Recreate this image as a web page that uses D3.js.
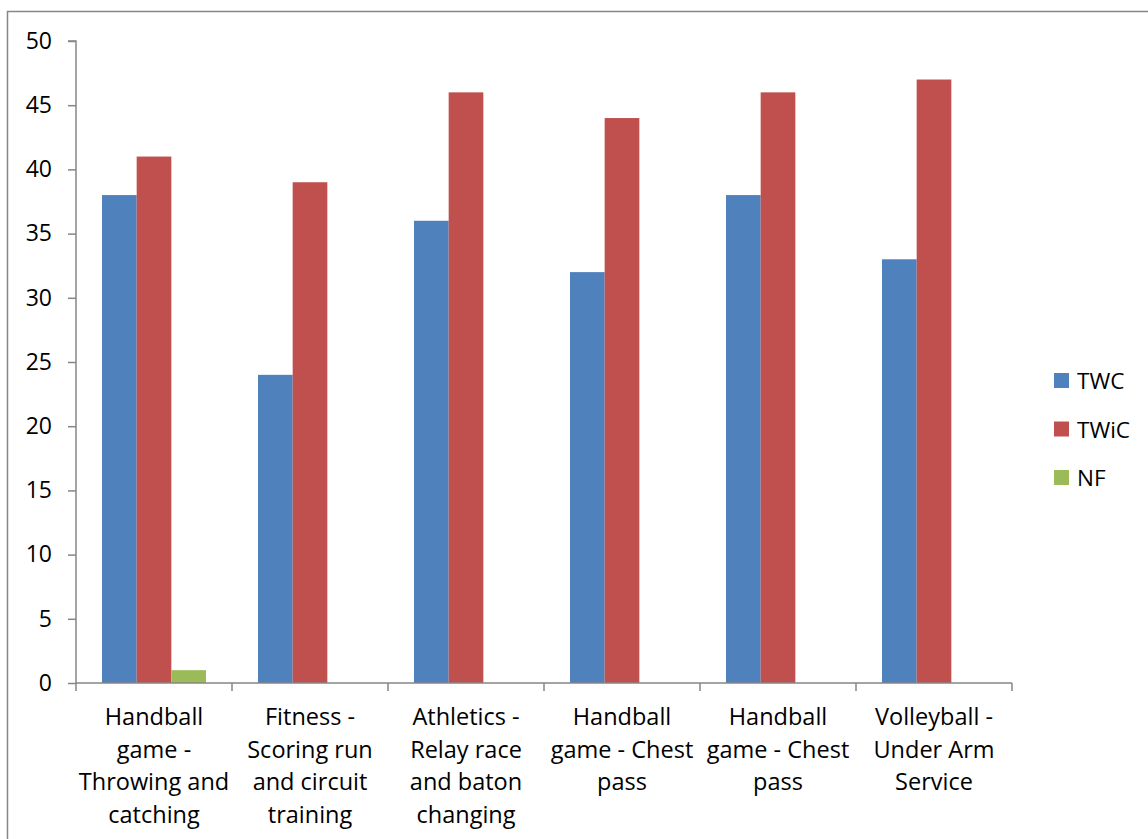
<!DOCTYPE html>
<html>
<head>
<meta charset="utf-8">
<script src="https://cdn.jsdelivr.net/npm/d3@7"></script>
<style>
  html, body { margin: 0; padding: 0; background: #fff; }
  svg { display: block; }
  text { font-family: "Open Sans", Lato, "Liberation Sans", sans-serif; fill: #000; }
</style>
</head>
<body>
<svg id="chart" width="1148" height="839"></svg>
<script>
// Lesson topics (x categories), each label split into display lines
const categories = [
  ["Handball", "game -", "Throwing and", "catching"],
  ["Fitness -", "Scoring run", "and circuit", "training"],
  ["Athletics -", "Relay race", "and baton", "changing"],
  ["Handball", "game - Chest", "pass"],
  ["Handball", "game - Chest", "pass"],
  ["Volleyball -", "Under Arm", "Service"]
];
const seriesNames = ["TWC", "TWiC", "NF"];
const twc  = [38, 24, 36, 32, 38, 33];
const twic = [41, 39, 46, 44, 46, 47];
const nf   = [1, 0, 0, 0, 0, 0];
const yTicks = [0, 5, 10, 15, 20, 25, 30, 35, 40, 45, 50];
const colors = ["#4F81BD", "#C0504D", "#9BBB59"];

const seriesValues = [twc, twic, nf];

const svg = d3.select("#chart");

// outer chart-area frame
svg.append("rect")
  .attr("x", 7.5).attr("y", 11.5)
  .attr("width", 1160).attr("height", 850)
  .attr("fill", "none").attr("stroke", "#868686").attr("stroke-width", 1.5);

const plot = { left: 76, right: 1012, top: 41, bottom: 683 };

const x = d3.scaleBand()
  .domain(d3.range(categories.length))
  .range([plot.left, plot.right])
  .paddingInner(0).paddingOuter(0);

const inner = d3.scaleBand()
  .domain(d3.range(seriesNames.length))
  .range([0, x.bandwidth()])
  .paddingInner(0)
  .paddingOuter(0.75);

const y = d3.scaleLinear().domain([0, 50]).range([plot.bottom, plot.top]);

// bars
const groups = svg.append("g").selectAll("g")
  .data(categories.map((c, i) => i))
  .join("g")
  .attr("transform", i => `translate(${x(i)},0)`);

groups.selectAll("rect")
  .data(i => seriesValues.map((vals, s) => ({ s, v: vals[i] })))
  .join("rect")
  .attr("x", d => inner(d.s))
  .attr("width", inner.bandwidth())
  .attr("y", d => y(d.v))
  .attr("height", d => y(0) - y(d.v))
  .attr("fill", d => colors[d.s]);

// y axis
const yAxis = svg.append("g")
  .attr("transform", `translate(${plot.left},0)`)
  .call(d3.axisLeft(y).tickValues(yTicks).tickSize(8).tickPadding(16));
yAxis.selectAll("path, line").attr("stroke", "#868686").attr("stroke-width", 1.5);
yAxis.select(".domain").attr("d", `M-8,${plot.top}H0V${plot.bottom}`);
yAxis.selectAll("text")
  .style("font-family", "'Open Sans', Lato, sans-serif")
  .attr("font-size", 23).attr("fill", "#000");

// x axis
const xAxis = svg.append("g")
  .attr("transform", `translate(0,${plot.bottom})`);
xAxis.append("line")
  .attr("x1", plot.left).attr("x2", plot.right)
  .attr("stroke", "#868686").attr("stroke-width", 1.5);
const boundaries = d3.range(categories.length + 1).map(i => i < categories.length ? x(i) : x(i - 1) + x.bandwidth());
xAxis.selectAll("line.tick")
  .data(boundaries)
  .join("line")
  .attr("class", "tick")
  .attr("x1", d => d).attr("x2", d => d)
  .attr("y1", 0).attr("y2", 8)
  .attr("stroke", "#868686").attr("stroke-width", 1.5);

// category labels
const labels = svg.append("g").selectAll("text")
  .data(categories)
  .join("text")
  .attr("text-anchor", "middle")
  .attr("font-size", 23.5)
  .attr("transform", (d, i) => `translate(${x(i) + x.bandwidth() / 2},${725})`);
labels.selectAll("tspan")
  .data(d => d)
  .join("tspan")
  .attr("x", 0)
  .attr("y", (d, j) => j * 32.5)
  .text(d => d);

// legend
const legend = svg.append("g").attr("transform", "translate(1054,373)");
const items = legend.selectAll("g")
  .data(seriesNames)
  .join("g")
  .attr("transform", (d, i) => `translate(0,${i * 48.5})`);
items.append("rect")
  .attr("width", 15).attr("height", 15)
  .attr("fill", (d, i) => colors[i]);
items.append("text")
  .attr("x", 23).attr("y", 16)
  .attr("font-size", 22.5)
  .text(d => d);
</script>
</body>
</html>
